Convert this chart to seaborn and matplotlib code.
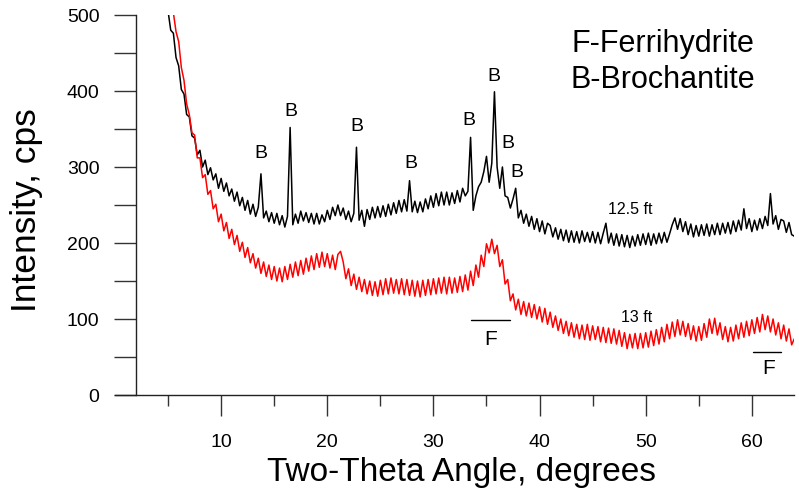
import numpy as np
import pandas as pd
import matplotlib
matplotlib.use("Agg")
import matplotlib.pyplot as plt
from matplotlib.ticker import MultipleLocator, FixedLocator
import seaborn as sns

# ---- data ----
x_black_start, x_black_end, x_step = 5.0, 64.0, 0.25
black_1250 = [
    505, 480, 476, 444, 433, 402, 396, 369,
    366, 341, 338, 316, 322, 300, 309, 290,
    299, 283, 291, 272, 285, 268, 279, 262,
    271, 255, 267, 249, 260, 243, 256, 238,
    251, 235, 247, 291, 233, 242, 228, 240,
    226, 239, 224, 236, 221, 235, 352, 224,
    238, 226, 242, 229, 240, 227, 239, 225,
    239, 225, 237, 228, 243, 231, 247, 236,
    250, 236, 246, 231, 242, 228, 239, 326,
    230, 243, 222, 244, 231, 247, 233, 248,
    234, 249, 235, 251, 237, 253, 239, 256,
    241, 257, 242, 282, 241, 255, 240, 254,
    241, 258, 245, 262, 247, 265, 249, 267,
    250, 267, 250, 266, 252, 269, 254, 272,
    262, 268, 339, 243, 262, 274, 280, 294,
    314, 280, 305, 399, 300, 272, 300, 262,
    260, 246, 258, 272, 233, 243, 226, 238,
    222, 235, 218, 232, 215, 229, 212, 226,
    223, 208, 220, 205, 218, 203, 217, 201,
    216, 201, 215, 200, 216, 202, 214, 201,
    215, 200, 214, 199, 213, 226, 200, 213,
    197, 212, 196, 211, 195, 210, 194, 209,
    196, 211, 197, 212, 198, 213, 197, 212,
    199, 213, 200, 214, 201, 212, 224, 233,
    218, 232, 215, 228, 211, 225, 208, 223,
    209, 224, 210, 225, 209, 224, 211, 226,
    211, 226, 213, 227, 212, 229, 215, 230,
    217, 245, 219, 232, 215, 230, 217, 232,
    219, 235, 223, 265, 225, 236, 218, 231,
    229, 214, 227, 211, 209,
]
x_red_start, x_red_end = 5.5, 64.0
red_1300 = [
    503, 478, 465, 431, 414, 383, 369, 345,
    342, 312, 312, 286, 290, 264, 269, 245,
    251, 228, 238, 216, 227, 206, 218, 198,
    210, 189, 201, 181, 194, 174, 186, 167,
    180, 160, 175, 156, 171, 152, 169, 150,
    167, 149, 169, 152, 172, 155, 175, 157,
    177, 159, 180, 163, 183, 165, 186, 168,
    188, 169, 186, 167, 184, 165, 185, 189,
    175, 153, 166, 144, 159, 139, 155, 136,
    152, 133, 150, 131, 149, 130, 151, 132,
    153, 133, 154, 134, 152, 133, 153, 132,
    152, 131, 151, 130, 150, 129, 151, 131,
    152, 132, 153, 133, 154, 134, 155, 133,
    155, 134, 154, 135, 156, 136, 158, 138,
    163, 144, 171, 155, 184, 169, 199, 187,
    205, 186, 197, 169, 178, 146, 152, 124,
    133, 112, 126, 106, 123, 104, 121, 102,
    119, 100, 116, 96, 114, 93, 109, 89,
    104, 85, 100, 81, 97, 78, 95, 76,
    93, 74, 92, 73, 93, 72, 91, 73,
    90, 70, 89, 69, 88, 68, 87, 67,
    85, 64, 82, 61, 80, 62, 81, 61,
    81, 62, 82, 63, 84, 65, 86, 67,
    89, 70, 93, 74, 96, 77, 99, 79,
    97, 77, 94, 73, 91, 71, 90, 72,
    94, 76, 100, 81, 101, 79, 95, 73,
    90, 70, 89, 71, 92, 74, 95, 76,
    97, 78, 99, 81, 102, 83, 106, 86,
    104, 83, 100, 79, 95, 74, 92, 71,
    87, 66, 74,
]

# peak annotations (B = Brochantite)
b_label_x = [13.79, 16.53, 22.75, 27.83, 33.35, 35.72, 36.99, 37.84]
b_label_y = [319, 374, 354, 306, 363, 420, 332, 294]
# ferrihydrite bars
f_bar_x0 = [33.57, 60.1]
f_bar_x1 = [37.2, 62.7]
f_bar_y = [99, 57]
f_label_x = [35.4, 61.57]
f_label_y = [73.7, 36.4]

x_black = np.arange(x_black_start, x_black_end + 1e-6, x_step)
x_red = np.arange(x_red_start, x_red_end + 1e-6, x_step)

df_b = pd.DataFrame({"angle": x_black, "cps": black_1250})
df_r = pd.DataFrame({"angle": x_red, "cps": red_1300})

sns.set_style("white")
plt.rcParams["font.family"] = ["Liberation Sans", "DejaVu Sans"]
plt.rcParams["text.color"] = "black"
plt.rcParams["axes.labelcolor"] = "black"
plt.rcParams["xtick.labelcolor"] = "black"
plt.rcParams["ytick.labelcolor"] = "black"

W, H = 799, 489
fig = plt.figure(figsize=(W / 100, H / 100), dpi=100)
ax = fig.add_axes([115 / W, (H - 396) / H, (794.3 - 115) / W, (396 - 16) / H])

sns.lineplot(data=df_b, x="angle", y="cps", color="#000000", linewidth=1.1, ax=ax)
sns.lineplot(data=df_r, x="angle", y="cps", color="#ff0000", linewidth=1.1, ax=ax)

ax.set_xlim(0, 64)
ax.set_ylim(0, 500)

for s in ["top", "right"]:
    ax.spines[s].set_visible(False)
ax.spines["left"].set_position(("data", 2))
for s in ["left", "bottom"]:
    ax.spines[s].set_color("#222222")
    ax.spines[s].set_linewidth(1.0)

ax.xaxis.set_major_locator(FixedLocator([10, 20, 30, 40, 50, 60]))
ax.xaxis.set_minor_locator(FixedLocator([5, 15, 25, 35, 45, 55]))
ax.yaxis.set_major_locator(MultipleLocator(100))
ax.yaxis.set_minor_locator(MultipleLocator(50))

ax.tick_params(axis="x", which="major", direction="out", length=15, width=1,
               color="#333333", labelsize=14, pad=12.5, bottom=True)
ax.tick_params(axis="x", which="minor", direction="out", length=8, width=1,
               color="#333333", bottom=True)
ax.tick_params(axis="y", which="both", direction="out", length=16, width=1,
               color="#333333", labelsize=14, pad=10.5, left=True)

ax.set_xlabel("Two-Theta Angle, degrees", fontsize=24)
ax.set_ylabel("Intensity, cps", fontsize=25.5)
ax.xaxis.set_label_coords(0.51, -0.16)
ax.yaxis.set_label_coords(-0.106, 0.489)

for bx, by in zip(b_label_x, b_label_y):
    ax.text(bx, by, "B", fontsize=14, ha="center", va="center")

for x0, x1, yb in zip(f_bar_x0, f_bar_x1, f_bar_y):
    ax.plot([x0, x1], [yb, yb], color="#000000", linewidth=1.0)
for fx, fy in zip(f_label_x, f_label_y):
    ax.text(fx, fy, "F", fontsize=15, ha="center", va="center")

ax.text(48.5, 245, "12.5 ft", fontsize=11.5, ha="center", va="center")
ax.text(49.1, 103.5, "13 ft", fontsize=11.5, ha="center", va="center")

ax.text(51.6, 453, "F-Ferrihydrite", fontsize=22, ha="center", va="baseline")
ax.text(51.6, 405, "B-Brochantite", fontsize=22, ha="center", va="baseline")

fig.savefig("out.png", dpi=100)
